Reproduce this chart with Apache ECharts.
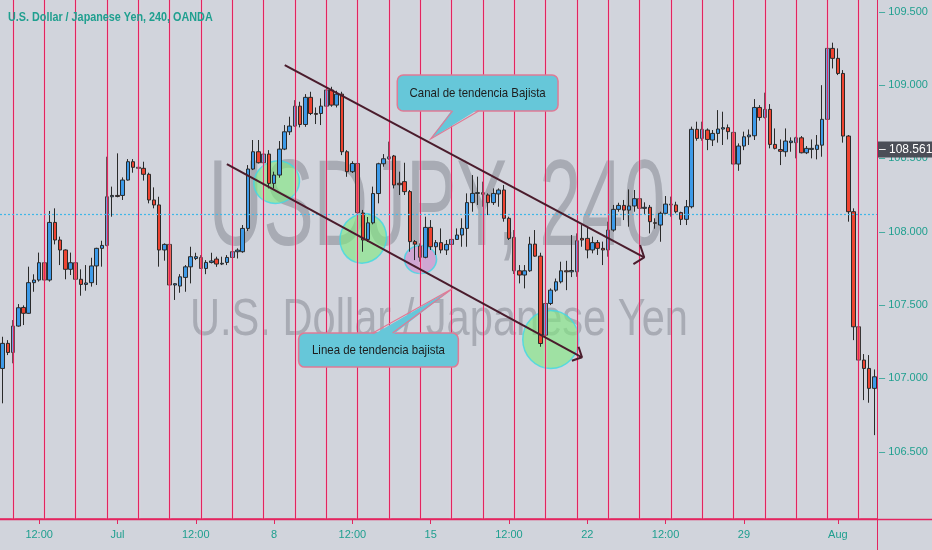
<!DOCTYPE html>
<html><head><meta charset="utf-8">
<script src="https://cdn.jsdelivr.net/npm/echarts@6.0.0/dist/echarts.min.js"></script>
<style>html,body{margin:0;padding:0;background:#d1d4dc;}#c{width:932px;height:550px;}</style>
</head><body><div id="c"></div>
<script>
// ---- data (USD/JPY, 240 min bars) ----
const opens = [
107.067,107.238,107.176,107.356,107.483,107.443,107.652,107.670,107.788,107.670,
108.063,107.943,107.875,107.743,107.788,107.675,107.640,107.652,107.766,107.886,
107.906,108.238,108.247,108.247,108.352,108.477,108.439,108.432,108.391,108.216,
108.182,107.875,107.913,107.636,107.629,107.688,107.760,107.817,107.824,107.749,
107.790,107.813,107.779,107.790,107.824,107.863,107.863,108.022,108.427,108.545,
108.470,108.529,108.329,108.386,108.563,108.681,108.720,108.856,108.731,108.916,
108.806,108.806,108.856,108.966,108.863,108.938,108.545,108.409,108.465,108.127,
107.947,108.060,108.260,108.463,108.497,108.516,108.330,108.341,108.273,107.932,
107.902,107.825,108.029,107.897,107.925,107.875,107.913,107.947,107.977,108.022,
108.198,108.261,108.266,108.250,108.198,108.257,108.284,108.091,107.961,107.733,
107.704,107.733,107.915,107.833,107.294,107.510,107.601,107.658,107.733,107.726,
107.726,107.954,107.954,107.875,107.925,107.886,107.875,108.011,108.152,108.179,
108.147,108.175,108.225,108.159,108.166,108.061,108.045,108.125,108.188,108.182,
108.130,108.084,108.170,108.698,108.636,108.693,108.625,108.670,108.700,108.709,
108.677,108.461,108.584,108.647,108.654,108.847,108.779,108.834,108.595,108.560,
108.545,108.607,108.607,108.640,108.538,108.561,108.561,108.590,108.766,109.250,
109.182,109.079,108.652,108.136,107.351,107.124,107.067,106.931];
const closes = [
107.238,107.176,107.356,107.481,107.443,107.652,107.670,107.788,107.670,108.063,
107.943,107.875,107.743,107.788,107.675,107.640,107.650,107.766,107.886,107.906,
108.238,108.247,108.240,108.352,108.477,108.439,108.432,108.391,108.216,108.182,
107.875,107.913,107.636,107.645,107.692,107.760,107.829,107.829,107.749,107.790,
107.800,107.779,107.784,107.824,107.863,107.874,108.022,108.427,108.545,108.470,
108.529,108.329,108.386,108.563,108.681,108.720,108.856,108.731,108.916,108.806,
108.800,108.856,108.966,108.863,108.938,108.545,108.409,108.465,108.130,107.943,
108.060,108.260,108.463,108.497,108.510,108.318,108.320,108.273,107.932,107.915,
107.825,108.029,107.897,107.925,107.875,107.913,107.947,107.977,108.022,108.198,
108.261,108.266,108.255,108.198,108.261,108.284,108.091,107.954,107.733,107.704,
107.733,107.915,107.833,107.237,107.510,107.601,107.658,107.733,107.726,107.735,
107.938,107.943,107.875,107.925,107.886,107.875,108.011,108.152,108.179,108.147,
108.175,108.225,108.159,108.166,108.068,108.057,108.125,108.188,108.182,108.136,
108.084,108.170,108.698,108.636,108.698,108.629,108.670,108.700,108.709,108.682,
108.461,108.584,108.647,108.659,108.847,108.779,108.834,108.595,108.568,108.548,
108.618,108.618,108.640,108.538,108.568,108.568,108.590,108.766,109.250,109.182,
109.079,108.652,108.136,107.351,107.124,107.067,106.931,107.010];
const lows = [
106.829,107.158,107.102,107.352,107.363,107.440,107.590,107.659,107.652,107.659,
107.913,107.772,107.675,107.704,107.636,107.563,107.597,107.625,107.636,107.761,
107.900,108.102,108.234,108.216,108.348,108.402,108.272,108.348,108.193,108.159,
107.761,107.802,107.613,107.534,107.583,107.590,107.647,107.806,107.745,107.710,
107.783,107.760,107.772,107.772,107.813,107.817,107.856,108.004,108.420,108.465,
108.420,108.295,108.295,108.368,108.556,108.659,108.715,108.711,108.715,108.795,
108.734,108.727,108.847,108.852,108.847,108.522,108.374,108.400,108.113,107.863,
107.930,108.050,108.193,108.443,108.490,108.295,108.250,108.250,107.863,107.806,
107.795,107.818,107.875,107.841,107.852,107.841,107.825,107.943,107.897,107.897,
108.136,108.182,108.170,108.113,108.182,108.170,108.068,107.943,107.711,107.647,
107.613,107.726,107.829,107.215,107.215,107.499,107.590,107.647,107.601,107.690,
107.692,107.897,107.818,107.852,107.841,107.772,107.829,108.000,108.136,108.079,
108.034,108.136,108.147,108.120,107.988,108.020,107.931,108.113,108.102,108.125,
108.045,108.045,108.159,108.620,108.620,108.556,108.584,108.607,108.591,108.629,
108.438,108.415,108.556,108.591,108.625,108.757,108.772,108.568,108.561,108.454,
108.511,108.545,108.500,108.534,108.529,108.500,108.493,108.511,108.704,109.113,
109.068,108.607,108.068,107.260,107.051,106.851,106.833,106.612];
const highs = [
107.283,107.260,107.397,107.506,107.497,107.761,107.709,107.857,107.818,108.141,
108.159,107.966,107.879,107.857,107.845,107.743,107.772,107.822,107.890,107.938,
108.511,108.307,108.534,108.370,108.495,108.495,108.475,108.477,108.402,108.302,
108.238,107.920,107.920,107.648,107.710,107.772,107.897,107.856,107.840,107.806,
107.856,107.829,107.829,107.840,107.879,107.886,108.045,108.454,108.625,108.625,
108.561,108.556,108.409,108.618,108.727,108.784,108.897,108.886,108.938,108.954,
108.847,108.909,108.988,108.988,108.961,108.954,108.556,108.480,108.489,108.148,
108.100,108.307,108.470,108.529,108.614,108.523,108.409,108.470,108.284,107.943,
107.920,108.102,108.079,107.943,108.022,107.943,107.954,108.022,108.091,108.261,
108.386,108.375,108.341,108.261,108.295,108.295,108.318,108.102,108.011,107.772,
107.772,107.965,108.011,107.856,107.606,107.613,107.680,107.795,107.801,107.977,
107.988,108.045,108.034,107.966,107.943,107.932,108.068,108.182,108.197,108.216,
108.288,108.284,108.284,108.200,108.182,108.091,108.136,108.243,108.239,108.204,
108.136,108.216,108.716,108.750,108.750,108.704,108.693,108.829,108.818,108.731,
108.716,108.602,108.682,108.697,108.904,108.863,108.948,108.870,108.704,108.629,
108.704,108.643,108.647,108.652,108.584,108.629,108.659,108.999,109.318,109.289,
109.250,109.102,108.659,108.159,107.567,107.165,107.158,107.060];

const tickIndex = [7,22,37,52,67,82,97,112,127,142,160];
const tickText  = ['12:00','Jul','12:00','8','12:00','15','12:00','22','12:00','29','Aug'];
const yTickValues = [106.5,107,107.5,108,108.5,109,109.5];
const sessionLineIdx = [2,8,14,20,26,32,38,44,50,56,62,68,74,80,86,92,98,104,110,116,122,128,134,140,146,152,158,164];
const refPrice = 108.12;
const lastPrice = 108.561;

// annotations in (bar index, price)
const upperTrend = [[54.05,109.136],[122.9,107.825]];
const upperHead  = [[122.12,107.909],[122.9,107.825],[120.84,107.779]];
const lowerTrend = [[42.96,108.461],[110.98,107.143]];
const lowerHead  = [[110.33,107.215],[110.98,107.143],[109.06,107.119]];
const highlightCenters = [[52.5,108.338],[69.08,107.954],[80.06,107.810],[105.0,107.264]];
const calloutText = ['Canal de tendencia Bajista','Linea de tendencia bajista'];
const calloutBox  = [[75.6,108.823,106.4,109.068],[56.7,107.076,87.3,107.308]]; // x0,pLow,x1,pHigh
const calloutTail = [[86.2,91.2,108.823,82.0,108.632],[70.9,74.7,107.308,86.2,107.612]]; // bx0,bx1,baseP,tipX,tipP

// ---- chart ----
const N = opens.length;
const categories = opens.map((_, i) => String(i));
const candles = opens.map((o, i) => [o, closes[i], lows[i], highs[i]]);
const TEAL = '#1f9f8f', PINK = '#e3245f', FONT = 'Liberation Sans, Arial, sans-serif';

const ellipseStyle = [
  {size:[46,42], rot:20, fill:'rgba(128,232,128,0.78)'},
  {size:[46,50], rot:-20, fill:'rgba(128,232,128,0.78)'},
  {size:[32,28], rot:0, fill:'rgba(206,140,206,0.8)'},
  {size:[56,58], rot:0, fill:'rgba(128,232,128,0.78)'}
];

const chart = echarts.init(document.getElementById('c'));
chart.setOption({
  backgroundColor: '#d1d4dc',
  animation: false,
  grid: {left: -1, right: 55, top: 0, bottom: 31},
  xAxis: [{
    type: 'category', data: categories, boundaryGap: true,
    axisLine: {lineStyle: {color: PINK, width: 1.5}},
    axisTick: {show: true, alignWithLabel: true, length: 5, lineStyle: {color: PINK},
      interval: (i) => tickIndex.includes(i)},
    axisLabel: {color: TEAL, fontSize: 11, fontFamily: FONT, margin: 10,
      interval: (i) => tickIndex.includes(i),
      formatter: (v, i) => tickText[tickIndex.indexOf(i)] || ''},
    splitLine: {show: false}
  }, {
    type: 'value', min: -0.5, max: N - 0.5, show: false
  }],
  yAxis: {
    type: 'value', position: 'right', min: 106.04, max: 109.58, scale: true,
    axisLine: {show: false},
    axisTick: {show: false},
    axisLabel: {color: TEAL, fontSize: 11, fontFamily: FONT, margin: 2,
      customValues: yTickValues, formatter: (v) => '\u2013 ' + v.toFixed(3)},
    splitLine: {show: false}
  },
  graphic: [
    {type:'text', x: 437, y: 211, scaleX: 0.62, z: 0, silent: true,
      style: {text: 'USDJPY, 240', fill: '#a8abb4', fontSize: 122, fontFamily: FONT,
        align: 'center', verticalAlign: 'middle', textAlign: 'center', textVerticalAlign: 'middle'}},
    {type:'text', x: 439, y: 321, scaleX: 0.8, z: 0, silent: true,
      style: {text: 'U.S. Dollar / Japanese Yen', fill: '#a8abb4', fontSize: 52, fontFamily: FONT,
        align: 'center', verticalAlign: 'middle', textAlign: 'center', textVerticalAlign: 'middle'}},
    {type:'text', x: 8, y: 17, scaleX: 0.8, z: 50, silent: true,
      style: {text: 'U.S. Dollar / Japanese Yen, 240, OANDA', fill: TEAL, fontSize: 13.5, fontWeight: 'bold',
        fontFamily: FONT, align: 'left', verticalAlign: 'middle', textAlign: 'left', textVerticalAlign: 'middle'}},
    {type:'line', z: 50, silent: true, shape: {x1: 877.5, y1: 0, x2: 877.5, y2: 550}, style: {stroke: PINK, lineWidth: 1}},
    {type:'line', z: 50, silent: true, shape: {x1: 0, y1: 519.5, x2: 932, y2: 519.5}, style: {stroke: PINK, lineWidth: 1.5}}
  ],
  series: [
    {
      type: 'scatter', xAxisIndex: 1, yAxisIndex: 0, z: 1, silent: true,
      data: highlightCenters.map((c, i) => ({
        value: c, symbolSize: ellipseStyle[i].size, symbolRotate: ellipseStyle[i].rot,
        itemStyle: {color: ellipseStyle[i].fill, borderColor: '#3fd8e6', borderWidth: 1.5}
      })),
      symbol: 'circle'
    },
    {
      type: 'candlestick', xAxisIndex: 0, yAxisIndex: 0, z: 3, barWidth: 4,
      data: candles,
      itemStyle: {color: '#3d9ae8', color0: '#ee4431', borderColor: '#2a2a2a', borderColor0: '#2a2a2a', borderWidth: 1},
      markLine: {
        silent: true, symbol: 'none', animation: false,
        data: [
          ...sessionLineIdx.map(i => ({xAxis: i, lineStyle: {color: PINK, width: 1.2, type: 'solid',
            shadowColor: 'rgba(255,235,242,0.9)', shadowBlur: 2}, label: {show: false}})),
          {yAxis: refPrice, lineStyle: {color: '#3fb6e8', width: 1.2, type: [2, 2]}, label: {show: false}},
          {yAxis: lastPrice, lineStyle: {color: 'rgba(0,0,0,0)', width: 0}, label: {show: true, position: 'end', distance: 1,
            formatter: '\u2013 ' + lastPrice.toFixed(3), color: '#ffffff', backgroundColor: '#4b4e57',
            fontSize: 12, fontFamily: FONT, padding: [2, 8, 2, 1]}}
        ]
      }
    },
    {
      type: 'line', xAxisIndex: 1, yAxisIndex: 0, z: 30, silent: true, symbol: 'none',
      data: upperTrend, lineStyle: {color: '#4a1c2c', width: 2}
    },
    {
      type: 'line', xAxisIndex: 1, yAxisIndex: 0, z: 30, silent: true, symbol: 'none',
      data: upperHead, lineStyle: {color: '#4a1c2c', width: 2}
    },
    {
      type: 'line', xAxisIndex: 1, yAxisIndex: 0, z: 30, silent: true, symbol: 'none',
      data: lowerTrend, lineStyle: {color: '#4a1c2c', width: 2}
    },
    {
      type: 'line', xAxisIndex: 1, yAxisIndex: 0, z: 30, silent: true, symbol: 'none',
      data: lowerHead, lineStyle: {color: '#4a1c2c', width: 2}
    },
    {
      type: 'custom', xAxisIndex: 1, yAxisIndex: 0, z: 40, silent: true,
      data: calloutBox.map((b, i) => [b[0], b[1], i]),
      encode: {x: 0, y: 1},
      renderItem: (params, api) => {
        const k = api.value(2);
        const b = calloutBox[k], t = calloutTail[k];
        const tl = api.coord([b[0], b[3]]), br = api.coord([b[2], b[1]]);
        const b1 = api.coord([t[0], t[2]]), b2 = api.coord([t[1], t[2]]), tip = api.coord([t[3], t[4]]);
        const inset = tip[1] < b1[1] ? 2 : -2;
        return {type: 'group', children: [
          {type: 'rect', shape: {x: tl[0], y: tl[1], width: br[0] - tl[0], height: br[1] - tl[1], r: 6},
            style: {fill: '#66c7d9', stroke: '#e07a95', lineWidth: 1.5}},
          {type: 'polygon', shape: {points: [[b1[0], b1[1] + inset], tip, [b2[0], b2[1] + inset]]},
            style: {fill: '#66c7d9'}},
          {type: 'polyline', shape: {points: [b1, tip, b2]}, style: {stroke: '#e07a95', fill: null, lineWidth: 1.2}},
          {type: 'text', x: (tl[0] + br[0]) / 2, y: (tl[1] + br[1]) / 2, scaleX: 0.88,
            style: {text: calloutText[k], fill: '#1d1d1d', fontSize: 13, fontFamily: FONT,
              align: 'center', verticalAlign: 'middle', textAlign: 'center', textVerticalAlign: 'middle'}}
        ]};
      }
    }
  ]
});
</script></body></html>
